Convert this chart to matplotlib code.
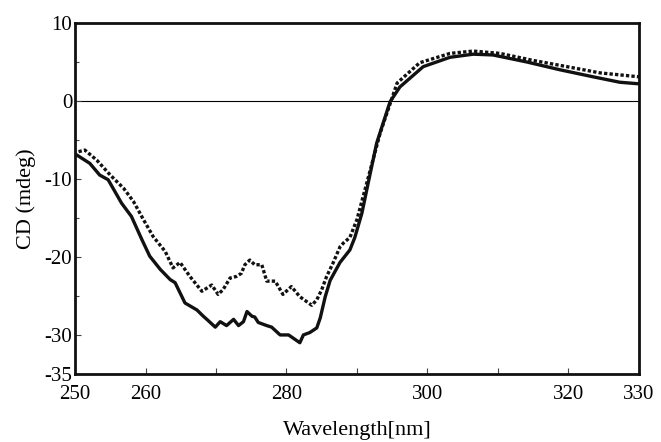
import matplotlib

matplotlib.use("Agg")
import matplotlib.pyplot as plt
from matplotlib.ticker import MultipleLocator

matplotlib.rcParams["font.family"] = ["Liberation Serif", "DejaVu Serif"]
matplotlib.rcParams["axes.unicode_minus"] = False

# ---- data (wavelength [nm], CD [mdeg]) ----
sol_wl = [250.0, 250.2, 252.1, 253.5, 254.7, 255.4, 256.6, 258.0, 259.5, 260.6,
          262.1, 263.5, 264.2, 265.6, 267.3, 268.2, 268.7, 269.9, 270.6, 271.5,
          272.5, 273.2, 273.9, 274.4, 275.1, 275.5, 276.0, 277.2, 277.9, 279.1,
          280.3, 281.9, 282.4, 283.3, 284.3, 284.8, 285.5, 286.2, 287.6, 289.0,
          289.7, 290.7, 291.6, 292.8, 294.7, 296.1, 299.4, 303.2, 306.5, 309.3,
          314.1, 318.8, 323.5, 327.3, 330.0]
sol_cd = [-6.8, -6.9, -8.0, -9.5, -10.1, -11.2, -13.1, -14.8, -17.8, -19.9,
          -21.6, -22.9, -23.3, -25.9, -26.8, -27.6, -28.0, -29.0, -28.3, -28.8,
          -28.0, -28.8, -28.3, -27.0, -27.6, -27.7, -28.4, -28.8, -29.0, -30.0,
          -30.0, -31.0, -30.0, -29.7, -29.1, -27.8, -25.1, -23.0, -20.7, -19.1,
          -17.5, -14.4, -10.5, -5.4, -0.1, 1.8, 4.4, 5.6, 6.0, 5.9,
          5.0, 4.0, 3.1, 2.4, 2.2]

dot_wl = [250.5, 251.4, 253.1, 255.0, 256.9, 258.3, 259.7, 261.1, 262.8, 263.9,
          264.9, 266.3, 268.0, 268.7, 269.4, 270.3, 271.0, 272.0, 272.9, 273.6,
          274.1, 274.8, 275.5, 276.5, 277.2, 278.4, 279.5, 280.7, 281.9, 283.6,
          284.3, 285.0, 285.7, 286.6, 287.6, 288.1, 289.0, 290.0, 291.4, 293.3,
          295.7, 298.9, 303.2, 306.5, 310.3, 315.0, 319.8, 324.5, 330.0]
dot_cd = [-6.5, -6.3, -7.6, -9.5, -11.2, -12.9, -15.2, -17.4, -19.3, -21.4,
          -20.7, -22.5, -24.4, -24.0, -23.6, -24.8, -24.2, -22.7, -22.5, -22.1,
          -21.0, -20.4, -21.0, -21.0, -23.1, -23.1, -24.8, -23.8, -25.1, -26.2,
          -25.5, -24.2, -22.5, -20.8, -18.7, -18.2, -17.5, -15.2, -10.5, -4.1,
          2.3, 4.9, 6.1, 6.4, 6.1, 5.2, 4.4, 3.6, 3.1]

x_ticks = [250, 260, 270, 280, 290, 300, 310, 320, 330]
x_labels = ["250", "260", "", "280", "", "300", "", "320", "330"]
y_ticks = [10, 0, -10, -20, -30, -35]
y_labels = ["10", "0", "-10", "-20", "-30", "-35"]

fig = plt.figure(figsize=(6.61, 4.42), dpi=100)
ax = fig.add_axes([0.1135, 0.154, 0.853, 0.794])

ax.axhline(0, color="black", lw=0.8, zorder=1)
ax.plot(sol_wl, sol_cd, "-", color="#111111", lw=2.4, zorder=3)
ax.plot(dot_wl, dot_cd, color="#111111", lw=2.4, ls=(0, (1.0, 0.65)),
        dash_capstyle="butt", zorder=2)

ax.set_xlim(250, 330)
ax.set_ylim(-35, 10)
ax.set_xticks(x_ticks)
ax.set_xticklabels(x_labels)
ax.set_yticks(y_ticks)
ax.set_yticklabels(y_labels)
ax.yaxis.set_minor_locator(MultipleLocator(5))

ax.tick_params(axis="both", which="both", direction="in", labelsize=15,
               width=0.8, color="#444444")
ax.tick_params(axis="both", which="major", length=4)
ax.tick_params(axis="both", which="minor", length=3)
ax.tick_params(axis="x", pad=8)
ax.tick_params(axis="y", pad=2)

for sp in ax.spines.values():
    sp.set_linewidth(2.0)
    sp.set_color("#111111")

ax.set_xlabel("Wavelength[nm]", fontsize=16, labelpad=12)
ax.set_ylabel("CD (mdeg)", fontsize=16, labelpad=6)

fig.savefig("out.png", dpi=100)
